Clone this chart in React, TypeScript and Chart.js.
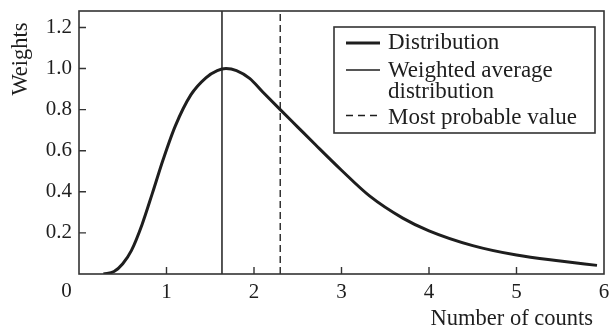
import React, { useEffect, useRef } from "react";
import { Chart, registerables } from "chart.js";

Chart.register(...registerables);

// ---- data ----
const curveX = [0.28, 0.4, 0.5, 0.6, 0.72, 0.84, 0.96, 1.1, 1.28, 1.45, 1.58, 1.68, 1.8, 1.95, 2.1, 2.3, 2.5, 2.7, 3.0, 3.32, 3.7, 4.0, 4.5, 5.0, 5.5, 5.92];
const curveY = [0, 0.012, 0.05, 0.115, 0.24, 0.395, 0.555, 0.72, 0.873, 0.955, 0.99, 1.0, 0.99, 0.952, 0.886, 0.8, 0.715, 0.63, 0.505, 0.38, 0.272, 0.21, 0.138, 0.092, 0.063, 0.042];
const weightedAverageX = 1.634;
const mostProbableX = 2.3;
const xTickValues = [0, 1, 2, 3, 4, 5, 6];
const yTickValues = [0.2, 0.4, 0.6, 0.8, 1.0, 1.2];
const xRange = [0, 6];
const yRange = [0, 1.28];
const xTitle = "Number of counts";
const yTitle = "Weights";
const legendLabels = [["Distribution"], ["Weighted average", "distribution"], ["Most probable value"]];

const FONT = "'Liberation Serif', 'Times New Roman', serif";
const INK = "#1e1e1e";

const zeroPad = (s: any) => {
  s.paddingTop = 0;
  s.paddingBottom = 0;
  s.paddingLeft = 0;
  s.paddingRight = 0;
};

const framePlugin = {
  id: "frame",
  afterDraw(chart: any) {
    const { ctx, chartArea } = chart;
    const { left, top, right, bottom } = chartArea;
    const xs = chart.scales.x;
    const ys = chart.scales.y;
    ctx.save();
    // frame
    ctx.strokeStyle = "#333";
    ctx.lineWidth = 1.6;
    ctx.setLineDash([]);
    ctx.strokeRect(left, top, right - left, bottom - top);
    // inner ticks
    ctx.lineWidth = 1.4;
    ctx.beginPath();
    xTickValues.forEach((v) => {
      if (v <= xRange[0] || v >= xRange[1]) return;
      const px = xs.getPixelForValue(v);
      ctx.moveTo(px, bottom);
      ctx.lineTo(px, bottom - 7);
    });
    yTickValues.forEach((v) => {
      const py = ys.getPixelForValue(v);
      ctx.moveTo(left, py);
      ctx.lineTo(left + 7, py);
    });
    ctx.stroke();

    // origin label "0"
    ctx.fillStyle = INK;
    ctx.font = `21px ${FONT}`;
    ctx.textAlign = "center";
    ctx.textBaseline = "alphabetic";
    ctx.fillText(String(xTickValues[0]), left - 12.5, bottom + 23);

    // axis titles
    ctx.font = `22.5px ${FONT}`;
    ctx.textAlign = "right";
    ctx.fillText(xTitle, right - 11, bottom + 51);
    ctx.save();
    ctx.translate(27, top + 48);
    ctx.rotate(-Math.PI / 2);
    ctx.textAlign = "center";
    ctx.fillText(yTitle, 0, 0);
    ctx.restore();

    // legend
    const bx = right - 270;
    const by = top + 16;
    const bw = 261;
    const bh = 106;
    ctx.fillStyle = "#fff";
    ctx.fillRect(bx, by, bw, bh);
    ctx.strokeStyle = "#333";
    ctx.lineWidth = 1.6;
    ctx.strokeRect(bx, by, bw, bh);

    const samples = [
      { y: 16, width: 3, dash: [] as number[] },
      { y: 43, width: 1.4, dash: [] as number[] },
      { y: 88.5, width: 1.4, dash: [7, 5] },
    ];
    const baselines = [[22], [50, 70.5], [97]];
    ctx.strokeStyle = INK;
    samples.forEach((s) => {
      ctx.lineWidth = s.width;
      ctx.setLineDash(s.dash);
      ctx.beginPath();
      ctx.moveTo(bx + 12, by + s.y);
      ctx.lineTo(bx + 46, by + s.y);
      ctx.stroke();
    });
    ctx.setLineDash([]);
    ctx.fillStyle = INK;
    ctx.font = `23px ${FONT}`;
    ctx.textAlign = "left";
    ctx.textBaseline = "alphabetic";
    legendLabels.forEach((lines, i) => {
      lines.forEach((t, j) => ctx.fillText(t, bx + 54, by + baselines[i][j]));
    });
    ctx.restore();
  },
};

export default function App() {
  const ref = useRef<HTMLCanvasElement | null>(null);

  useEffect(() => {
    if (!ref.current) return;
    const chart = new Chart(ref.current, {
      type: "line",
      data: {
        datasets: [
          {
            label: legendLabels[0][0],
            data: curveX.map((x, i) => ({ x, y: curveY[i] })),
            borderColor: INK,
            borderWidth: 3,
            pointRadius: 0,
            cubicInterpolationMode: "monotone",
            fill: false,
          },
          {
            label: legendLabels[1].join(" "),
            data: [
              { x: weightedAverageX, y: yRange[0] },
              { x: weightedAverageX, y: yRange[1] },
            ],
            borderColor: INK,
            borderWidth: 1.5,
            pointRadius: 0,
            fill: false,
          },
          {
            label: legendLabels[2][0],
            data: [
              { x: mostProbableX, y: yRange[0] },
              { x: mostProbableX, y: yRange[1] },
            ],
            borderColor: "#333",
            borderWidth: 1.5,
            borderDash: [7, 4],
            pointRadius: 0,
            fill: false,
          },
        ],
      },
      options: {
        responsive: false,
        animation: false,
        devicePixelRatio: 1,
        layout: { padding: { left: 0, right: 7, top: 11, bottom: 0 } },
        plugins: { legend: { display: false }, tooltip: { enabled: false } },
        scales: {
          x: {
            type: "linear",
            min: xRange[0],
            max: xRange[1],
            afterBuildTicks: (s: any) => {
              s.ticks = xTickValues.map((v) => ({ value: v }));
            },
            afterFit: (s: any) => {
              s.height = 53;
              zeroPad(s);
            },
            grid: { display: false, drawTicks: false },
            border: { display: false },
            ticks: {
              padding: 6,
              autoSkip: false,
              maxRotation: 0,
              color: INK,
              font: { family: FONT, size: 21 },
              callback: (v: any) => (v === xRange[0] ? "" : String(v)),
            },
          },
          y: {
            min: yRange[0],
            max: yRange[1],
            afterBuildTicks: (s: any) => {
              s.ticks = yTickValues.map((v) => ({ value: v }));
            },
            afterFit: (s: any) => {
              s.width = 79;
              zeroPad(s);
            },
            grid: { display: false, drawTicks: false },
            border: { display: false },
            ticks: {
              padding: 7,
              color: INK,
              font: { family: FONT, size: 21 },
              callback: (v: any) => Number(v).toFixed(1),
            },
          },
        },
      },
      plugins: [framePlugin],
    } as any);
    return () => chart.destroy();
  }, []);

  return (
    <div style={{ position: "fixed", left: 0, top: 0, width: 611, height: 327, background: "#fff" }}>
      <canvas ref={ref} width={611} height={327} style={{ display: "block" }} />
    </div>
  );
}
